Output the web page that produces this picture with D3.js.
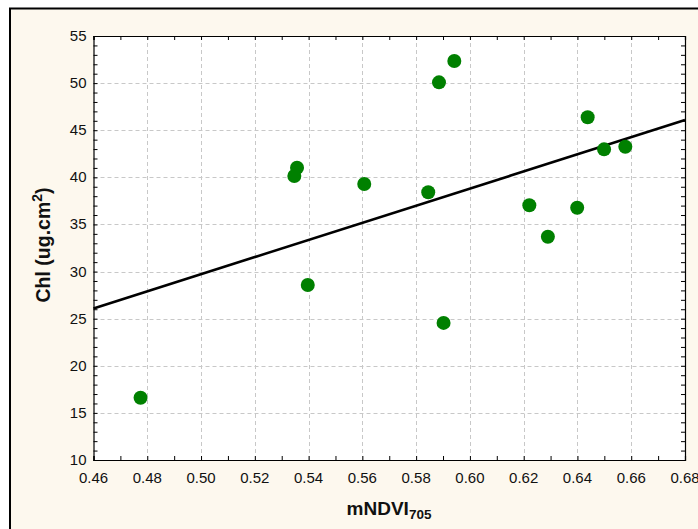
<!DOCTYPE html>
<html><head><meta charset="utf-8">
<script src="https://cdn.jsdelivr.net/npm/d3@7"></script>
<style>
html,body{margin:0;padding:0;background:#fff;}
svg{display:block;font-family:"Liberation Sans",Arial,sans-serif;}
</style></head>
<body>
<script>
// Data
const mNDVI = [0.4775,0.5347,0.5357,0.5397,0.5607,0.5845,0.5885,0.5942,0.5902,0.6221,0.6290,0.6399,0.6438,0.6499,0.6578];
const chl   = [16.6,40.14,41.02,28.57,39.29,38.41,50.08,52.35,24.55,37.03,33.69,36.77,46.37,42.97,43.25];
const fitX = [0.46, 0.68];
const fitY = [26.09, 46.08];
const xTicks = [0.46,0.48,0.50,0.52,0.54,0.56,0.58,0.60,0.62,0.64,0.66,0.68];
const yTicks = [10,15,20,25,30,35,40,45,50,55];

const W = 698, H = 529;
const L = 93.5, R = 685, T = 36, B = 460;

const svg = d3.select("body").append("svg").attr("width", W).attr("height", H);
// outer frame
svg.append("rect").attr("x",0).attr("y",0).attr("width",W).attr("height",H).attr("fill","#fff");
svg.append("rect").attr("x",10).attr("y",8.5).attr("width",W+20).attr("height",H+20)
  .attr("fill","#fdf8ee").attr("stroke","#000").attr("stroke-width",2);

const x = d3.scaleLinear().domain([0.46,0.68]).range([L,R]);
const y = d3.scaleLinear().domain([10,55]).range([B,T]);

// plot area
svg.append("rect").attr("x",L).attr("y",T).attr("width",R-L).attr("height",B-T).attr("fill","#fff");

// grid
const grid = svg.append("g").attr("stroke","#c8c8c8").attr("stroke-width",1).attr("stroke-dasharray","4,3");
xTicks.slice(1,-1).forEach(v=>grid.append("line").attr("x1",Math.round(x(v))+0.5).attr("x2",Math.round(x(v))+0.5).attr("y1",T).attr("y2",B));
yTicks.slice(1,-1).forEach(v=>grid.append("line").attr("y1",Math.round(y(v))+0.5).attr("y2",Math.round(y(v))+0.5).attr("x1",L).attr("x2",R));

// axes with inward ticks
const minorX = d3.range(46,69).map(d=>d/100);
const minorY = d3.range(10,56);
const axB = d3.axisBottom(x).tickValues(minorX).tickSize(-4).tickFormat("");
const axT = d3.axisTop(x).tickValues(minorX).tickSize(-4).tickFormat("");
const axL = d3.axisLeft(y).tickValues(minorY).tickSize(-4).tickFormat("");
const axR = d3.axisRight(y).tickValues(minorY).tickSize(-4).tickFormat("");
[[axB,`translate(0,${B})`],[axT,`translate(0,${T})`],[axL,`translate(${L},0)`],[axR,`translate(${R},0)`]].forEach(([a,t])=>{
  const g = svg.append("g").attr("transform",t).call(a);
  g.select(".domain").attr("stroke","#000").attr("stroke-width",1.2);
  g.selectAll(".tick line").attr("stroke","#000");
});

// tick labels
const lab = svg.append("g").attr("font-size",15).attr("fill","#111");
xTicks.forEach(v=>lab.append("text").attr("x",x(v)).attr("y",B+23).attr("text-anchor","middle").text(v.toFixed(2)));
yTicks.forEach(v=>lab.append("text").attr("x",L-7).attr("y",y(v)+5).attr("text-anchor","end").text(v));

// regression line
svg.append("line").attr("x1",x(fitX[0])).attr("y1",y(fitY[0])).attr("x2",x(fitX[1])).attr("y2",y(fitY[1]))
  .attr("stroke","#000").attr("stroke-width",2.6);

// points
svg.append("g").selectAll("circle").data(mNDVI.map((v,i)=>[v,chl[i]])).join("circle")
  .attr("cx",d=>x(d[0])).attr("cy",d=>y(d[1])).attr("r",7).attr("fill","#008000");

// axis titles
const xt = svg.append("text").attr("x",389).attr("y",515).attr("text-anchor","middle")
  .attr("font-size",19).attr("font-weight","bold").attr("fill","#111");
xt.append("tspan").text("mNDVI");
xt.append("tspan").attr("font-size",13.5).attr("dy",4).text("705");

const yt = svg.append("text").attr("transform","translate(50,245) rotate(-90)").attr("text-anchor","middle")
  .attr("font-size",19.5).attr("font-weight","bold").attr("fill","#111");
yt.append("tspan").text("Chl (ug.cm");
yt.append("tspan").attr("font-size",14).attr("dy",-8).text("2");
yt.append("tspan").attr("dy",8).text(")");
</script>
</body></html>
